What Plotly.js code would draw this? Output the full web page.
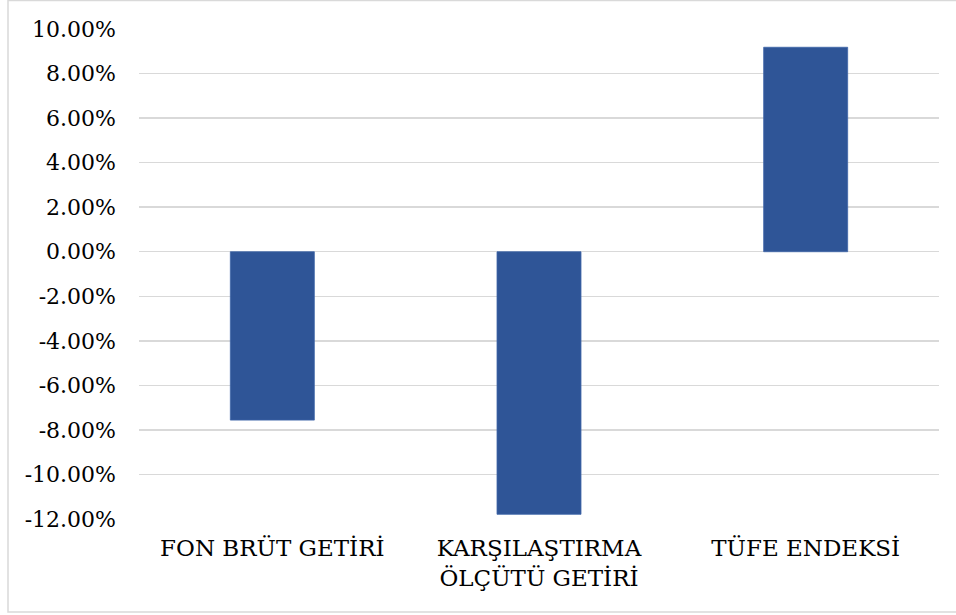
<!DOCTYPE html>
<html>
<head>
<meta charset="utf-8">
<script src="https://cdn.plot.ly/plotly-3.0.1.min.js"></script>
<style>
html,body{margin:0;padding:0;background:#fff;}
#chart{width:956px;height:615px;}
</style>
</head>
<body>
<div id="chart"></div>
<script>
const categories = ["FON BRÜT GETİRİ", "KARŞILAŞTIRMA<br>ÖLÇÜTÜ GETİRİ", "TÜFE ENDEKSİ"];
const values = [-7.56, -11.79, 9.18];
const tickVals = [-12, -10, -8, -6, -4, -2, 0, 2, 4, 6, 8, 10];
const tickText = tickVals.map(v => v.toFixed(2) + "%");

const FONT = "DejaVu Serif";

const trace = {
  type: "bar",
  x: categories,
  y: values,
  marker: {color: "#2F5597", line: {color: "#3f66a8", width: 0.8}},
  hoverinfo: "none"
};

const layout = {
  width: 956,
  height: 615,
  margin: {l: 139, r: 17, t: 29, b: 96},
  paper_bgcolor: "#ffffff",
  plot_bgcolor: "#ffffff",
  showlegend: false,
  bargap: 0.685,
  font: {family: FONT, size: 22, color: "#000000"},
  xaxis: {
    showgrid: false,
    showline: false,
    zeroline: false,
    ticks: "",
    ticklabelstandoff: 13,
    tickfont: {family: FONT, size: 23, color: "#000000"}
  },
  yaxis: {
    range: [-12, 10],
    tickvals: tickVals,
    ticktext: tickText,
    showgrid: true,
    gridcolor: "#d9d9d9",
    gridwidth: 1.5,
    zeroline: false,
    showline: false,
    ticks: "",
    ticklabelstandoff: 22,
    tickfont: {family: FONT, size: 22, color: "#000000"}
  },
  shapes: [{
    type: "rect",
    xref: "paper", yref: "paper",
    x0: (8 - 139) / 800, x1: (958 - 139) / 800,
    y0: -(612 - 519) / 490, y1: 1 + 28.5 / 490,
    line: {color: "#d9d9d9", width: 1.5},
    fillcolor: "rgba(0,0,0,0)"
  }]
};

Plotly.newPlot("chart", [trace], layout, {staticPlot: true, displayModeBar: false});
</script>
</body>
</html>
